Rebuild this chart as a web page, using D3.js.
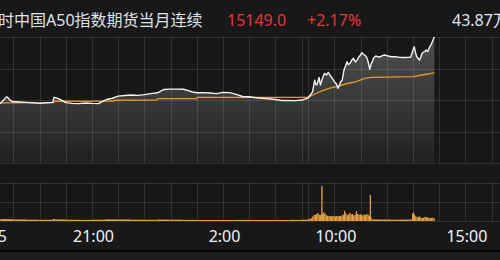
<!DOCTYPE html>
<html><head><meta charset="utf-8">
<script src="https://cdn.jsdelivr.net/npm/d3@7"></script>
<style>html,body{margin:0;padding:0;background:#181818;overflow:hidden}svg{display:block}</style>
</head><body>
<svg id="c" width="500" height="260"></svg>
<script>
// ---------- data ----------
const title = "富时中国A50指数期货当月连续";
const lastPrice = "15149.0";
const changePct = "+2.17%";
const volumeText = "43.87万";
const prevClose = 14827.3;
const limitPct = 0.0217;

const priceTimes = ["17:00","17:15","17:30","17:40","17:45","17:52","18:00","18:15","18:30","18:45","19:00","19:15","19:30","19:33","19:40","19:50","20:00","20:15","20:30","20:45","21:00","21:15","21:25","21:35","21:45","22:00","22:15","22:30","22:45","23:00","23:15","23:30","23:45","0:00","0:15","0:30","0:40","0:50","1:00","1:15","1:30","1:45","2:00","2:15","2:30","2:45","3:00","3:15","3:30","3:45","4:00","4:15","4:30","4:45","5:00","5:15",
"9:00","9:05","9:10","9:15","9:17","9:20","9:25","9:28","9:33","9:37","9:42","9:46","9:51","9:55","10:00","10:05","10:08","10:11","10:14","10:18","10:22","10:25","10:29","10:32","10:36","10:40","10:44","10:48","10:52","10:56","11:00","11:03","11:06","11:09","11:12","11:15","11:18","11:21","11:24","11:27","11:30","11:35","11:40","11:45","11:50","11:55","12:00","12:10","12:20","12:30","12:40","12:50","12:55","13:00","13:03","13:06","13:09","13:12","13:15","13:18","13:21","13:24","13:27","13:30","13:34","13:38","13:41","13:44","13:47","13:49"];
const priceValues = [14812,14812,14810,14832,14844,14827,14818,14817,14815,14813,14810,14813,14815,14841,14837,14827,14814,14810,14809,14812,14810,14809,14822,14831,14835,14847,14850,14853,14851,14855,14860,14864,14881,14883,14883,14882,14875,14868,14864,14865,14863,14860,14866,14865,14856,14845,14844,14839,14836,14834,14830,14825,14825,14824,14827,14837,
14840,14853,14869,14929,14909,14904,14943,14904,14939,14963,14955,14968,14950,14939,14921,14909,14887,14899,14919,14929,14980,14997,15023,15008,15015,15031,15040,15021,15031,15047,15057,15069,15062,15057,15052,15040,15016,14984,15011,15023,15042,15052,15047,15048,15054,15057,15054,15048,15049,15045,15044,15045,15047,15083,15099,15067,15047,15039,15031,15047,15066,15072,15074,15083,15075,15098,15108,15123,15139,15149];

const avgTimes = ["17:00","19:32","19:34","21:50","21:52","23:28","23:30","1:00","1:02","5:15","9:00","9:10","9:30","9:50","10:05","10:25","10:50","11:10","11:25","13:00","13:20","13:35","13:49"];
const avgValues = [14812,14814,14821,14822,14826,14827,14834,14835,14841,14841,14841,14853,14873,14888,14896,14909,14921,14938,14943,14947,14955,14960,14967];

const volTimes = ["17:00","17:30","18:00","18:30","19:00","19:30","19:35","20:00","20:30","21:00","21:30","22:00","22:30","23:00","23:30","0:00","0:30","1:00","1:30","2:00","2:30","3:00","3:30","4:00","4:30","5:00",
"9:00","9:03","9:06","9:09","9:12","9:15","9:18","9:21","9:24","9:27","9:30","9:31","9:34","9:37","9:40","9:43","9:46","9:49","9:52","9:55","9:58","10:01","10:04","10:07","10:10","10:13","10:16","10:19","10:22","10:25","10:28","10:31","10:34","10:37","10:40","10:43","10:46","10:49","10:52","10:55","10:58","11:01","11:04","11:07","11:10","11:13","11:16","11:19","11:21","11:22","11:25","11:28","11:30","11:40","11:50","12:00","12:10","12:20","12:30","12:40","12:50","12:57","12:58","13:00","13:02","13:05","13:08","13:11","13:14","13:17","13:20","13:23","13:26","13:29","13:32","13:35","13:38","13:41","13:44","13:47"];
const volValues = [220,180,150,130,120,200,150,120,110,130,160,150,130,120,140,130,110,100,100,100,110,100,100,100,110,130,
200,220,280,450,600,620,700,800,620,600,3530,700,850,750,600,520,480,500,460,520,480,450,500,470,520,480,560,640,1000,750,580,650,800,650,700,560,600,980,700,620,680,600,560,650,600,700,620,500,2600,400,180,150,150,140,150,140,130,140,130,140,150,200,750,830,600,480,350,420,450,320,300,330,420,400,350,300,320,300,330,280];
const volEnd = "13:49";

const gridTimes = ["18:00","19:00","20:00","21:00","22:00","23:00","0:00","1:00","2:00","3:00","4:00","5:00","5:15","10:00","11:00","12:00","13:00","14:00","15:00","16:00"];
const tickLabels = ["16:55","21:00","2:00","10:00","15:00"];

// ---------- helpers ----------
// trading-hours elapsed since 17:00 (night session 17:00-5:15, day session from 9:00)
function elapsed(s){
  const [h,m] = s.split(":").map(Number);
  const t = h + m/60;
  if (t >= 16.6) return t - 17;
  if (t < 9) return t + 7;
  return 12.25 + (t - 9);
}

const svg = d3.select("#c");
const W = 500, H = 260;
const font = "'Noto Sans','Noto Sans CJK SC',sans-serif";

const x = d3.scaleLinear().domain([0, 19.572]).range([-12.8, W]);
const y = d3.scaleLinear().domain([prevClose*(1-limitPct), prevClose*(1+limitPct)]).range([163, 37]);
const yv = d3.scaleLinear().domain([0, 3800]).range([221, 183]);

// backgrounds
svg.append("rect").attr("width",W).attr("height",H).attr("fill","#181818");
svg.append("rect").attr("y",250).attr("width",W).attr("height",2).attr("fill","#070707");
svg.append("rect").attr("y",252).attr("width",W).attr("height",8).attr("fill","#1d1d1d");

// gradient
const defs = svg.append("defs");
const g = defs.append("linearGradient").attr("id","fillg").attr("gradientUnits","userSpaceOnUse")
  .attr("x1",0).attr("x2",0).attr("y1",y.range()[1]).attr("y2",y.range()[0]);
g.append("stop").attr("offset",0).attr("stop-color","#fff").attr("stop-opacity",0.24);
g.append("stop").attr("offset",1).attr("stop-color","#fff").attr("stop-opacity",0.04);

const price = priceTimes.map((t,i)=>({e:elapsed(t), v:priceValues[i]}));
const avg = avgTimes.map((t,i)=>({e:elapsed(t), v:avgValues[i]}));

// area under price
svg.append("path").datum(price)
  .attr("d", d3.area().x(d=>x(d.e)).y0(y.range()[0]).y1(d=>y(d.v)))
  .attr("fill","url(#fillg)");

// grid: horizontal lines
const hLevels = d3.range(5).map(i => y.domain()[0] + (y.domain()[1]-y.domain()[0])*i/4);
const gridColor = "rgba(255,255,255,0.11)";
svg.append("g").selectAll("line").data(hLevels).join("line")
  .attr("x1",0).attr("x2",W)
  .attr("y1",d=>Math.round(y(d))+0.5).attr("y2",d=>Math.round(y(d))+0.5)
  .attr("stroke",gridColor);
const vLevels = [0, 1900, 3800];
svg.append("g").selectAll("line").data(vLevels).join("line")
  .attr("x1",0).attr("x2",W)
  .attr("y1",d=>Math.round(yv(d))+0.5).attr("y2",d=>Math.round(yv(d))+0.5)
  .attr("stroke",gridColor);
// vertical lines
const gx = gridTimes.map(t=>Math.round(x(elapsed(t)))+0.5);
svg.append("g").selectAll("line").data(gx).join("line")
  .attr("x1",d=>d).attr("x2",d=>d).attr("y1",y.range()[1]).attr("y2",y.range()[0])
  .attr("stroke",gridColor);
svg.append("g").selectAll("line").data(gx).join("line")
  .attr("x1",d=>d).attr("x2",d=>d).attr("y1",yv.range()[1]).attr("y2",yv.range()[0])
  .attr("stroke",gridColor);

// avg line
svg.append("path").datum(avg)
  .attr("d", d3.line().x(d=>x(d.e)).y(d=>y(d.v)))
  .attr("fill","none").attr("stroke","#e8962e").attr("stroke-width",1.3);

// price line
svg.append("path").datum(price)
  .attr("d", d3.line().x(d=>x(d.e)).y(d=>y(d.v)))
  .attr("fill","none").attr("stroke","#f2f2f2").attr("stroke-width",1.4).attr("stroke-linejoin","round");

// volume bars
const vol = volTimes.map((t,i)=>({e:elapsed(t), v:volValues[i]}));
vol.forEach((d,i)=>{ d.e2 = i < vol.length-1 ? vol[i+1].e : elapsed(volEnd); });
svg.append("g").selectAll("rect").data(vol).join("rect")
  .attr("x", d=>x(d.e))
  .attr("width", d=>Math.max(1.3, x(d.e2)-x(d.e)))
  .attr("y", d=>yv(d.v))
  .attr("height", d=>yv(0)-yv(d.v))
  .attr("fill","#e9a040");

// x-axis labels
const axis = d3.axisBottom(x).tickValues(tickLabels.map(elapsed)).tickFormat((d,i)=>tickLabels[i]).tickSize(0);
const ax = svg.append("g").attr("transform","translate(1,231)").call(axis);
ax.select(".domain").remove();
ax.selectAll("text").attr("fill","#eef2f8").attr("font-size",16).attr("font-family",font).attr("dy","0.71em").attr("y",0);

// header
const hdr = svg.append("g").attr("font-family",font).attr("font-size",16);
hdr.append("text").attr("x",-18).attr("y",26).attr("fill","#dfe3ea").text(title);
hdr.append("text").attr("x",227).attr("y",26).attr("fill","#e8363a").text(lastPrice);
hdr.append("text").attr("x",307).attr("y",26).attr("fill","#e8363a").text(changePct);
hdr.append("text").attr("x",452).attr("y",26).attr("fill","#dfe6f2").text(volumeText);
</script>
</body></html>
